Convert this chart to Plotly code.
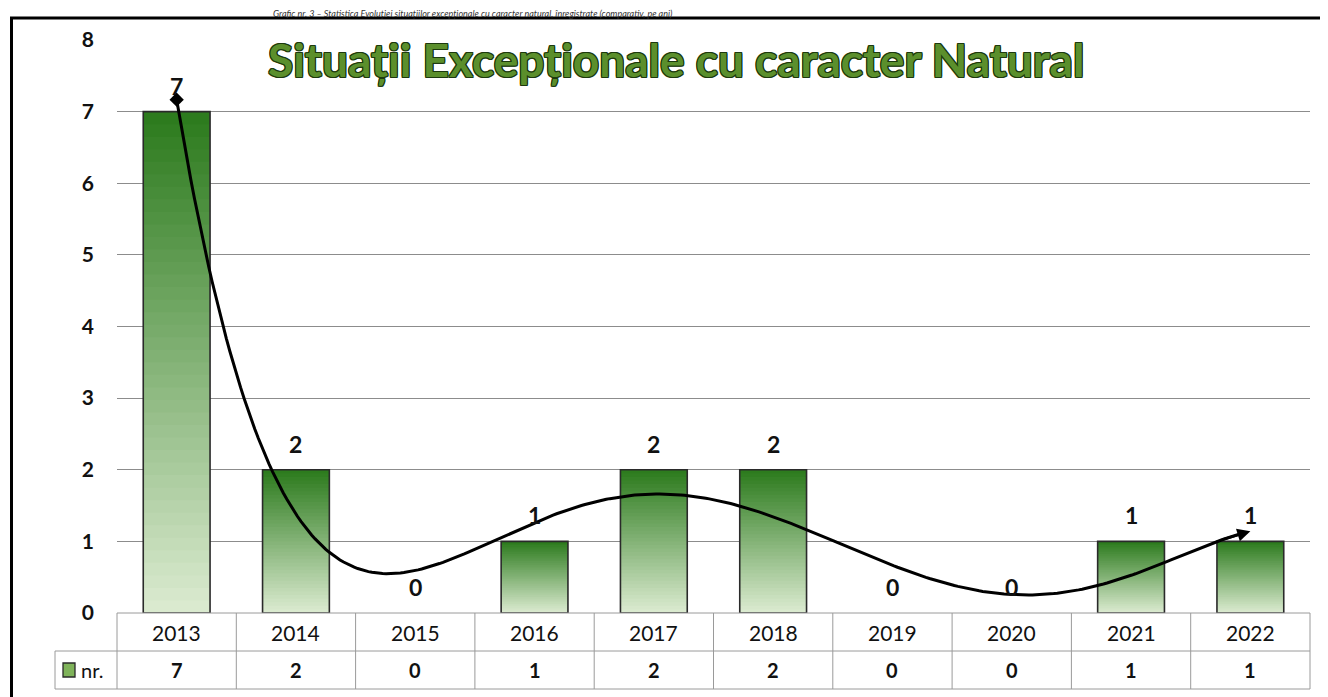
import numpy as np
import plotly.graph_objects as go

# ---------------- data ----------------
years = ["2013", "2014", "2015", "2016", "2017", "2018", "2019", "2020", "2021", "2022"]
values = [7, 2, 0, 1, 2, 2, 0, 0, 1, 1]
y_ticks = [0, 1, 2, 3, 4, 5, 6, 7, 8]
series_name = "nr."
chart_title = "Situații Excepționale cu caracter Natural"
caption = "Grafic nr. 3 – Statistica Evoluției situațiilor excepționale cu caracter natural, înregistrate (comparativ, pe ani)"
trend_degree = 5  # polynomial trendline, as in the source chart

# ---------------- geometry (page pixel coords; page body has 8px margin) ----------------
OFF = 8
W, H = 1328 - OFF, 697 - OFF
ML, MR, MT, MB = 117 - OFF, 18, 40 - OFF, 697 - 613
PW, PH = W - ML - MR, H - MT - MB
n = len(years)
xpos = np.arange(n)


def px_x(p):  # page x -> paper
    return (p - OFF - ML) / PW


def px_y(p):  # page y -> paper
    return (H - MB - (p - OFF)) / PH


def dx(xd):  # data x -> paper
    return (xd + 0.5) / n


FONT = "Lato"
fig = go.Figure()

# ---------------- gradient bars (overlapping slices) ----------------
top = np.array([0x2b, 0x7a, 0x1c])
bot = np.array([0xdd, 0xec, 0xd2])
N = 40
vals = np.array(values, dtype=float)
for i in range(N):
    t = (i + 0.5) / N
    c = bot + (top - bot) * t
    col = "rgb(%d,%d,%d)" % tuple(c.astype(int))
    b = vals * i / N
    h = np.minimum(vals * (i + 1.6) / N, vals) - b
    fig.add_trace(go.Bar(x=xpos, y=h, base=b, width=0.56,
                         marker=dict(color=col, line=dict(width=0)),
                         hoverinfo="skip", showlegend=False))
outline_w = [1.6 if v > 0 else 0 for v in values]
fig.add_trace(go.Bar(x=xpos, y=vals, width=0.56, name=series_name,
                     marker=dict(color="rgba(0,0,0,0)", line=dict(color="#2a2a2a", width=outline_w)),
                     showlegend=False))

# ---------------- trendline (polynomial fit of the data) ----------------
coef = np.polyfit(xpos + 1, vals, trend_degree)
xs = np.linspace(0, n - 1.1, 300)
ys = np.polyval(coef, xs + 1)
fig.add_trace(go.Scatter(x=xs, y=ys, mode="lines", line=dict(color="black", width=3),
                         hoverinfo="skip", showlegend=False))
fig.add_trace(go.Scatter(x=[0], y=[np.polyval(coef, 1)], mode="markers",
                         marker=dict(symbol="diamond", size=11, color="black"),
                         hoverinfo="skip", showlegend=False))
x_end, x_from = n - 1, n - 1.25
fig.add_annotation(x=x_end, y=np.polyval(coef, x_end + 1), ax=x_from, ay=np.polyval(coef, x_from + 1),
                   xref="x", yref="y", axref="x", ayref="y", text="", showarrow=True,
                   arrowhead=2, arrowsize=1.0, arrowwidth=2.6, arrowcolor="black")

# ---------------- data labels ----------------
for i, v in enumerate(values):
    fig.add_annotation(x=i, y=v, xref="x", yref="y", text="<b>%d</b>" % v, showarrow=False,
                       xanchor="center", yanchor="middle", yshift=26,
                       font=dict(family=FONT, size=23, color="#111"))

# ---------------- data table ----------------
shapes = []
row_h = 38 / PH
gray = "#9a9a9a"
lw = dict(color=gray, width=1)
shapes.append(dict(type="line", xref="paper", yref="paper", x0=0, x1=1, y0=0, y1=0, line=lw))
shapes.append(dict(type="line", xref="paper", yref="paper", x0=px_x(55), x1=1, y0=-row_h, y1=-row_h, line=lw))
shapes.append(dict(type="line", xref="paper", yref="paper", x0=px_x(55), x1=1, y0=-2 * row_h, y1=-2 * row_h, line=lw))
shapes.append(dict(type="line", xref="paper", yref="paper", x0=px_x(55), x1=px_x(55), y0=-row_h, y1=-2 * row_h, line=lw))
for k in range(n + 1):
    xp = k / n
    shapes.append(dict(type="line", xref="paper", yref="paper", x0=xp, x1=xp, y0=0, y1=-2 * row_h, line=lw))
for i, (yr, v) in enumerate(zip(years, values)):
    fig.add_annotation(x=dx(i), y=-row_h / 2, xref="paper", yref="paper", text=yr, showarrow=False,
                       xanchor="center", yanchor="middle",
                       font=dict(family=FONT, size=21, color="#111"))
    fig.add_annotation(x=dx(i), y=-1.5 * row_h, xref="paper", yref="paper", text="<b>%d</b>" % v,
                       showarrow=False, xanchor="center", yanchor="middle",
                       font=dict(family=FONT, size=20, color="#111"))
# legend key
shapes.append(dict(type="rect", xref="paper", yref="paper", x0=px_x(63), x1=px_x(75),
                   y0=px_y(677), y1=px_y(663), fillcolor="#7fb35a", line=dict(color="#2a2a2a", width=1.3)))
fig.add_annotation(x=px_x(79), y=-1.5 * row_h, xref="paper", yref="paper", text=series_name,
                   xanchor="left", yanchor="middle", showarrow=False,
                   font=dict(family=FONT, size=20, color="#111"))

# ---------------- frame ----------------
shapes.append(dict(type="rect", xref="paper", yref="paper", x0=px_x(11.5), x1=px_x(1360),
                   y0=px_y(760), y1=px_y(18), line=dict(color="black", width=3)))

# ---------------- title & caption ----------------
outline = ", ".join("%dpx %dpx 0 #1d3a0e" % (a, b) for a in (-1, 0, 1) for b in (-1, 0, 1) if a or b)
fig.add_annotation(x=px_x(676), y=px_y(59), xref="paper", yref="paper", text="<b>%s</b>" % chart_title,
                   xanchor="center", yanchor="middle", showarrow=False,
                   font=dict(family=FONT, size=46, color="#5b8f2c", shadow=outline))
fig.add_annotation(x=px_x(272), y=px_y(13), xref="paper", yref="paper", text="<i>%s</i>" % caption,
                   xanchor="left", yanchor="middle", showarrow=False, borderpad=0,
                   font=dict(family=FONT, size=9, color="#333"))

fig.update_layout(
    width=W, height=H, margin=dict(l=ML, r=MR, t=MT, b=MB),
    paper_bgcolor="white", plot_bgcolor="white", barmode="overlay",
    shapes=shapes, showlegend=False,
    xaxis=dict(range=[-0.5, n - 0.5], showticklabels=False, showgrid=False, zeroline=False, ticks=""),
    yaxis=dict(range=[0, 8], tickvals=y_ticks, showgrid=True, gridcolor="#8c8c8c", gridwidth=1,
               zeroline=False, ticks="", ticklabelstandoff=22,
               tickfont=dict(family=FONT, size=21, color="#111", weight="bold")),
)

fig.write_html("out.html")
